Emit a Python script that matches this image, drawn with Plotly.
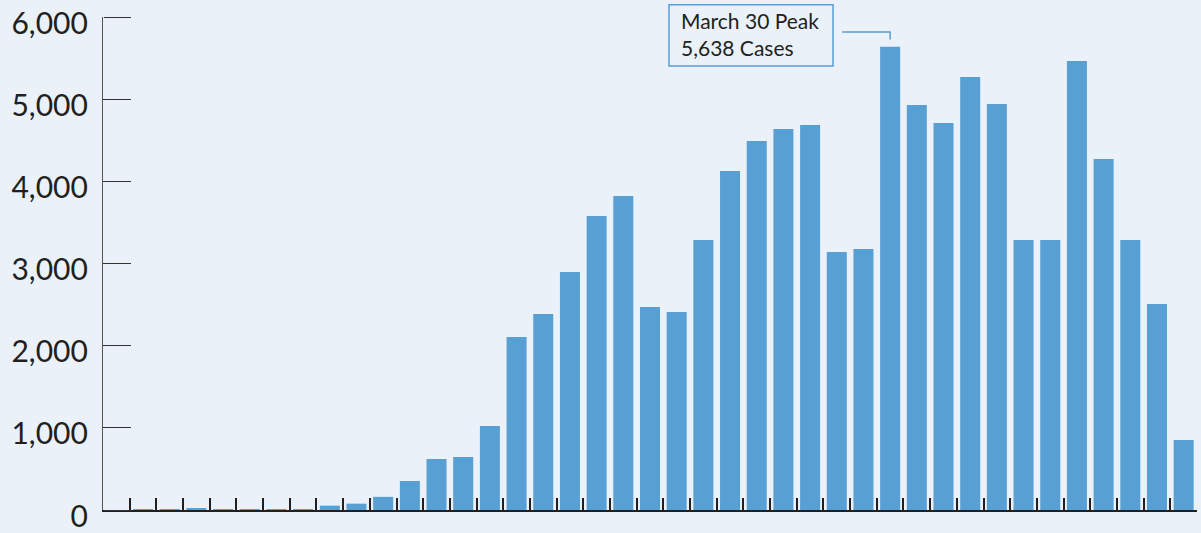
import plotly.graph_objects as go
import pandas as pd

# Daily new cases, March 1 - April 10
days = [d.strftime("%B %-d") for d in pd.date_range("2020-03-01", "2020-04-10")]
cases = [0, 3, 4, 14, 4, 5, 12, 12, 53, 77, 160, 353, 621, 645, 1022,
         2105, 2385, 2896, 3578, 3821, 2470, 2410, 3286, 4126, 4491, 4637,
         4685, 3140, 3176, 5638, 4929, 4710, 5270, 4941, 3286, 3286, 5464,
         4272, 3286, 2507, 852]
y_max = 6000
y_step = 1000

BAR = "#589FD4"
BG = "#EAF1F9"
INK = "#231F20"

peak = max(cases)
pk = cases.index(peak)

fig = go.Figure(go.Bar(x=days, y=cases, marker=dict(color=BAR, line=dict(width=0)),
                       hoverinfo="x+y"))
# helper trace so the tick-mark axis (y2) is drawn; it has no visible mark
fig.add_trace(go.Scatter(x=[days[0]], y=[0], yaxis="y2", mode="lines",
                         hoverinfo="skip", showlegend=False))

y_common = dict(range=[0, y_max + 0.5], tickmode="linear", tick0=0, dtick=y_step,
                showgrid=False, zeroline=False, automargin=False)

fig.update_layout(
    width=1201, height=533,
    margin=dict(l=103, r=4, t=17, b=23),
    paper_bgcolor=BG, plot_bgcolor=BG,
    bargap=0.25, showlegend=False,
    xaxis=dict(type="category", tickson="boundaries", ticks="inside", ticklen=12,
               tickwidth=1.5, tickcolor=INK, showline=True, linecolor=INK,
               linewidth=1.5, showticklabels=False, showgrid=False, zeroline=False,
               automargin=False),
    yaxis=dict(**y_common, tickformat=",", ticks="inside", ticklen=27, tickwidth=1.3,
               tickcolor="#333333", showline=True, linecolor="#555555",
               linewidth=1.3, ticklabeloverflow="allow", ticklabelshift=6,
               ticklabelstandoff=8,
               tickfont=dict(family="Lato", size=30, color=INK)),
    yaxis2=dict(**y_common, overlaying="y", anchor="free", position=0, side="right",
                ticks="outside", ticklen=27, tickwidth=1.3, tickcolor="#333333",
                showline=False, showticklabels=False),
)

# callout box
fig.add_shape(type="rect", xref="paper", yref="paper",
              x0=(669 - 103) / 1094, x1=(833 - 103) / 1094,
              y0=(510 - 66) / 493, y1=(510 - 4.7) / 493,
              line=dict(color=BAR, width=1.5), fillcolor="rgba(0,0,0,0)")
fig.add_annotation(xref="paper", yref="paper",
                   x=(681 - 103) / 1094, y=(510 - 33.9) / 493,
                   xanchor="left", yanchor="middle", align="left",
                   showarrow=False, borderpad=0, borderwidth=0,
                   text=f"{days[pk]} Peak<br>{peak:,} Cases",
                   font=dict(family="Lato", size=21, color=INK))
# connector
fig.add_shape(type="path", xref="x", yref="y",
              path=f"M {pk - 1.8} {peak + 180} L {pk} {peak + 180} L {pk} {peak + 90}",
              line=dict(color=BAR, width=1.5))

fig.write_html("out.html", config={"displayModeBar": False},
               post_script="document.body.style.margin='0';")
